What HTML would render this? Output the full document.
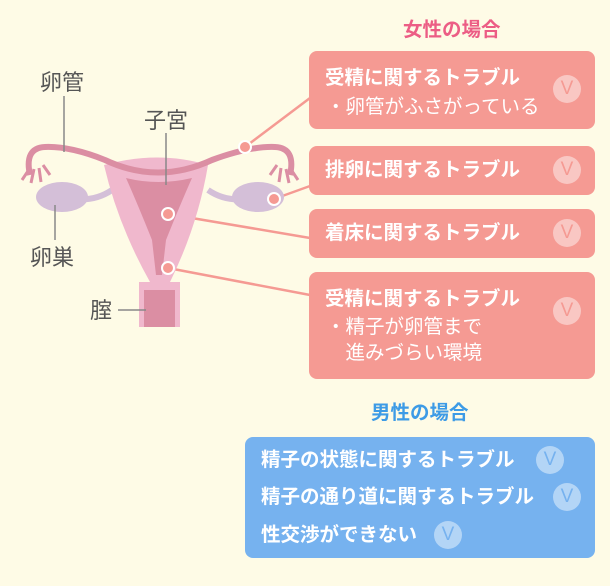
<!DOCTYPE html>
<html><head><meta charset="utf-8"><style>
body{margin:0;width:610px;height:586px;background:#fefbe6;position:relative;overflow:hidden;font-family:"Liberation Sans","Noto Sans CJK JP",sans-serif}
.t{position:absolute;font-weight:bold;font-size:19.5px;line-height:24px}
.box{position:absolute;border-radius:8px;color:#fff}
.pk{background:#f59a93;left:309px;width:286px}
.h{position:absolute;left:16px;font-weight:bold;font-size:19.5px;line-height:24px;white-space:nowrap}
.s{position:absolute;left:17px;font-size:19.5px;white-space:nowrap;line-height:26px}
.ic{position:absolute;width:28px;height:28px;border-radius:50%;background:rgba(255,255,255,.45);color:#f59a93;text-align:center;font-size:19px;line-height:28px}
.bl .ic{color:#76b2ef}
.lab{position:absolute;font-size:22px;color:#555;line-height:26px}
</style></head><body>
<svg width="610" height="586" style="position:absolute;left:0;top:0">
<g stroke="#f59a93" stroke-width="2.5" fill="none">
<line x1="245" y1="147" x2="310" y2="98"/>
<line x1="274" y1="199" x2="310" y2="186"/>
<line x1="168" y1="214" x2="310" y2="238"/>
<line x1="168" y1="268" x2="310" y2="295"/>
</g>
<path d="M60 196 Q90 205 112 190" stroke="#d4bfd8" stroke-width="6" fill="none"/>
<path d="M258 196 Q230 205 208 190" stroke="#d4bfd8" stroke-width="6" fill="none"/>
<ellipse cx="62" cy="197" rx="26" ry="15" fill="#d4bfd8"/>
<ellipse cx="258" cy="197" rx="26" ry="15" fill="#d4bfd8"/>
<path d="M104 165 Q158 150 208 165 Q198 225 170 282 L150 282 Q118 225 104 165Z" fill="#f0b8cd"/>
<path d="M139 282 L180 282 L180 327 L139 327Z" fill="#f0b8cd"/>
<path d="M144 290 L175 290 L175 327 L144 327Z" fill="#db8ea3"/>
<path d="M126 178 Q158 186 192 178 Q180 205 166 240 L162 275 L156 275 L152 240 Q138 205 126 178Z" fill="#db8ea3"/>
<path d="M30 175 Q24 148 45 147 Q70 146 105 160 Q158 185 212 160 Q250 146 275 147 Q296 148 290 175" stroke="#db8ea3" stroke-width="6" fill="none"/>
<g stroke="#db8ea3" stroke-width="3" fill="none">
<path d="M30 168 l-8 12 M34 169 l-3 14 M39 168 l2 14 M43 165 l7 10"/>
<path d="M290 168 l8 12 M286 169 l3 14 M281 168 l-2 14 M277 165 l-7 10"/>
</g>
<g stroke="#888" stroke-width="1.5">
<line x1="64" y1="96" x2="64" y2="152"/>
<line x1="166" y1="133" x2="166" y2="185"/>
<line x1="55" y1="205" x2="55" y2="240"/>
<line x1="118" y1="310" x2="146" y2="310"/>
</g>
<g fill="#f59a93" stroke="#fff" stroke-width="2">
<circle cx="245" cy="147" r="6"/><circle cx="274" cy="199" r="6"/>
<circle cx="168" cy="214" r="6"/><circle cx="168" cy="268" r="6"/>
</g>
</svg>
<div class="lab" style="left:40px;top:70px">卵管</div>
<div class="lab" style="left:144px;top:108px">子宮</div>
<div class="lab" style="left:30px;top:245px">卵巣</div>
<div class="lab" style="left:90px;top:298px">腟</div>
<div class="t" style="left:403px;top:18px;color:#ec5d85">女性の場合</div>
<div class="box pk" style="top:51px;height:78px"><div class="h" style="top:15px">受精に関するトラブル</div><div class="s" style="top:43px">・卵管がふさがっている</div><div class="ic" style="left:244px;top:24px">V</div></div>
<div class="box pk" style="top:146px;height:49px"><div class="h" style="top:12px">排卵に関するトラブル</div><div class="ic" style="left:244px;top:10px">V</div></div>
<div class="box pk" style="top:209px;height:49px"><div class="h" style="top:12px">着床に関するトラブル</div><div class="ic" style="left:244px;top:10px">V</div></div>
<div class="box pk" style="top:272px;height:107px"><div class="h" style="top:15px">受精に関するトラブル</div><div class="s" style="top:42px">・精子が卵管まで<br>　進みづらい環境</div><div class="ic" style="left:244px;top:25px">V</div></div>
<div class="t" style="left:371px;top:401px;color:#3d9be6">男性の場合</div>
<div class="box bl" style="left:245px;top:437px;width:350px;height:121px;background:#76b2ef">
<div class="h" style="top:11px">精子の状態に関するトラブル</div><div class="ic" style="left:291px;top:9px">V</div>
<div class="h" style="top:48px">精子の通り道に関するトラブル</div><div class="ic" style="left:308px;top:46px">V</div>
<div class="h" style="top:86px">性交渉ができない</div><div class="ic" style="left:189px;top:84px">V</div>
</div>
</body></html>
